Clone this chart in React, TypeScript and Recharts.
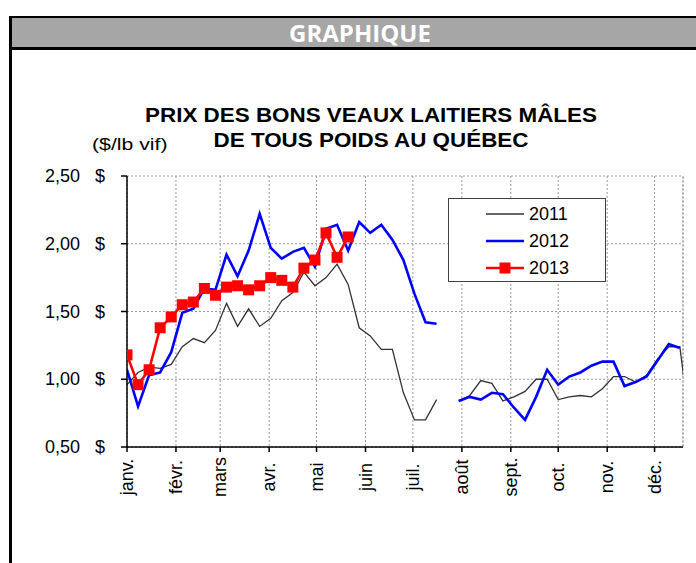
import React from 'react';
import { LineChart, Line, XAxis, YAxis, CartesianGrid, ReferenceLine } from 'recharts';

const monthLabels = ['janv.', 'févr.', 'mars', 'avr.', 'mai', 'juin', 'juil.', 'août', 'sept.', 'oct.', 'nov.', 'déc.'];
const monthStartDays = [0, 31, 59, 90, 120, 151, 181, 212, 243, 273, 304, 334];
const yTicks = [0.5, 1, 1.5, 2, 2.5];

const weekDays = [
  0, 7, 14, 21, 28, 35, 42, 49, 56, 63, 70, 77, 84, 91, 98, 105, 112, 119, 126, 133,
  140, 147, 154, 161, 168, 175, 182, 189, 196, 203, 210, 217, 224, 231, 238, 245, 252,
  259, 266, 273, 280, 287, 294, 301, 308, 315, 322, 329, 336, 343, 350, 357,
];

const prix2011 = [
  0.96, 1.05, 1.09, 1.08, 1.11, 1.24, 1.3, 1.27, 1.36, 1.56, 1.39, 1.52, 1.39, 1.45, 1.58,
  1.64, 1.79, 1.69, 1.75, 1.85, 1.7, 1.38, 1.32, 1.22, 1.22, 0.9, 0.7, 0.7, 0.85, null,
  0.84, 0.88, 0.99, 0.97, 0.84, 0.87, 0.91, 1.0, 1.0, 0.85, 0.87, 0.88, 0.87, 0.93, 1.02,
  1.02, 0.98, 1.03, 1.15, 1.24, 1.24, 0.6,
];

const prix2012 = [
  1.07, 0.8, 1.03, 1.05, 1.2, 1.49, 1.52, 1.67, 1.66, 1.92, 1.76, 1.95, 2.22, 1.97, 1.89,
  1.94, 1.97, 1.83, 2.11, 2.14, 1.95, 2.16, 2.08, 2.14, 2.03, 1.88, 1.63, 1.42, 1.41, null,
  0.84, 0.87, 0.85, 0.9, 0.89, 0.79, 0.7, 0.87, 1.07, 0.96, 1.02, 1.05, 1.1, 1.13, 1.13,
  0.95, 0.98, 1.02, 1.14, 1.26, 1.23, null,
];

const prix2013 = [
  1.18, 0.96, 1.07, 1.38, 1.46, 1.55, 1.57, 1.67, 1.62, 1.68, 1.69, 1.66, 1.69, 1.75, 1.73,
  1.68, 1.82, 1.88, 2.08, 1.9, 2.05,
];

const data = weekDays.map((d, i) => ({
  day: d,
  y2011: prix2011[i] ?? null,
  y2012: prix2012[i] ?? null,
  y2013: prix2013[i] ?? null,
}));

const FONT = '"Liberation Sans", Arial, sans-serif';

const YTick = (props: any) => {
  const { x, y, payload } = props;
  const label = Number(payload.value).toFixed(2).replace('.', ',');
  return (
    <g>
      <text x={x - 25} y={y} textAnchor="end" dominantBaseline="central" fontSize={18} fontFamily={FONT} fill="#000">
        {label}
      </text>
      <text x={x} y={y} textAnchor="end" dominantBaseline="central" fontSize={18} fontFamily={FONT} fill="#000">
        $
      </text>
    </g>
  );
};

const XTick = (props: any) => {
  const { x, payload } = props;
  const idx = monthStartDays.indexOf(payload.value);
  const label = idx >= 0 ? monthLabels[idx] : '';
  return (
    <text
      transform={`translate(${x},477) rotate(-90)`}
      textAnchor="middle"
      dominantBaseline="central"
      fontSize={18}
      fontFamily={FONT}
      fill="#000"
    >
      {label}
    </text>
  );
};

const SquareDot = (props: any) => {
  const { cx, cy, index } = props;
  if (cx == null || cy == null || isNaN(cx) || isNaN(cy)) return <g key={`d${index}`} />;
  return <rect key={`d${index}`} x={cx - 5.5} y={cy - 5.5} width={11} height={11} fill="#FF0000" />;
};

const legendItems = [
  { label: '2011', color: '#333333', width: 1.3, marker: false },
  { label: '2012', color: '#0000FF', width: 2.6, marker: false },
  { label: '2013', color: '#FF0000', width: 2.6, marker: true },
];

export default function App() {
  return (
    <div style={{ position: 'absolute', left: 0, top: 0, width: 696, height: 563, background: '#fff', overflow: 'hidden' }}>
      {/* frame */}
      <div style={{ position: 'absolute', left: 9, top: 16, width: 700, height: 2, background: '#000' }} />
      <div style={{ position: 'absolute', left: 12, top: 18, width: 700, height: 29, background: '#A6A6A6' }} />
      <div style={{ position: 'absolute', left: 9, top: 47, width: 700, height: 3, background: '#000' }} />
      <div style={{ position: 'absolute', left: 9, top: 16, width: 3, height: 560, background: '#000' }} />
      <div
        style={{
          position: 'absolute', left: 12, top: 18, width: 696, height: 29, lineHeight: '29px',
          textAlign: 'center', color: '#fff', fontFamily: '"Open Sans", sans-serif', fontWeight: 700, fontSize: 24,
        }}
      >
        GRAPHIQUE
      </div>
      {/* title */}
      <div
        style={{
          position: 'absolute', left: 71, top: 103, width: 600, textAlign: 'center', fontFamily: FONT,
          fontWeight: 700, fontSize: 20, lineHeight: '25px', color: '#000', transform: 'scaleX(1.12)',
          transformOrigin: '300px 0',
        }}
      >
        PRIX DES BONS VEAUX LAITIERS MÂLES
        <br />
        DE TOUS POIDS AU QUÉBEC
      </div>
      <div
        style={{
          position: 'absolute', left: 92, top: 135, fontFamily: FONT, fontSize: 17, color: '#000',
          transform: 'scaleX(1.25)', transformOrigin: '0 0', whiteSpace: 'nowrap',
        }}
      >
        ($/lb vif)
      </div>
      <div style={{ position: 'absolute', left: 0, top: 0 }}>
        <LineChart width={696} height={563} data={data} margin={{ top: 176, right: 13, bottom: 56, left: 47 }}>
          <CartesianGrid stroke="#999" strokeDasharray="2 2" />
          <ReferenceLine x={352} stroke="#999" strokeDasharray="2 2" />
          <XAxis
            type="number"
            dataKey="day"
            domain={[0, 352]}
            ticks={monthStartDays}
            allowDataOverflow
            interval={0}
            height={60}
            tickSize={5}
            stroke="#000"
            strokeWidth={1.5}
            tick={<XTick />}
          />
          <YAxis
            type="number"
            domain={[0.5, 2.5]}
            ticks={yTicks}
            width={80}
            tickSize={6}
            tickMargin={16}
            stroke="#000"
            strokeWidth={1.5}
            tick={<YTick />}
            allowDataOverflow
          />
          <Line dataKey="y2011" stroke="#333333" strokeWidth={1.3} dot={false} isAnimationActive={false} />
          <Line dataKey="y2012" stroke="#0000FF" strokeWidth={2.6} dot={false} isAnimationActive={false} />
          <Line
            dataKey="y2013"
            stroke="#FF0000"
            strokeWidth={2.6}
            dot={<SquareDot />}
            isAnimationActive={false}
          />
        </LineChart>
      </div>
      {/* legend */}
      <div
        style={{
          position: 'absolute', left: 448, top: 198, width: 156, height: 82, background: '#fff',
          border: '1.5px solid #404040',
        }}
      >
        {legendItems.map((it, i) => (
          <div key={it.label} style={{ position: 'absolute', left: 0, top: 3 + i * 27, height: 24, width: 155 }}>
            <svg width={40} height={24} style={{ position: 'absolute', left: 36, top: 0 }}>
              <line x1={1} y1={12} x2={39} y2={12} stroke={it.color} strokeWidth={it.width} />
              {it.marker && <rect x={14.5} y={6.5} width={11} height={11} fill={it.color} />}
            </svg>
            <span
              style={{
                position: 'absolute', left: 80, top: 0, lineHeight: '24px', fontFamily: FONT, fontSize: 18,
                color: '#000',
              }}
            >
              {it.label}
            </span>
          </div>
        ))}
      </div>
    </div>
  );
}
